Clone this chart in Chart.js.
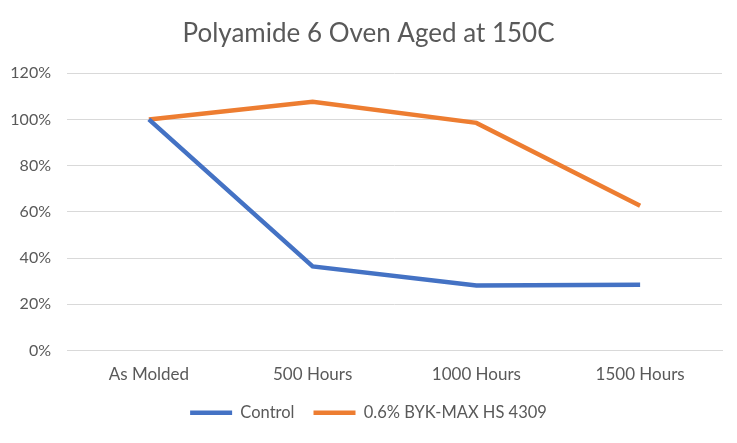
<!DOCTYPE html>
<html>
<head>
    <title>Polyamide 6 Oven Aged</title>
    <script src="https://cdn.jsdelivr.net/npm/chart.js@4.4.0/dist/chart.umd.min.js"></script>
    <style>
    body { margin: 0; background: #fff; }
    #container { width: 737px; height: 443px; }
    </style>
</head>
<body>
  <div id="container">
    <canvas id="myCanvas" width="737" height="443"></canvas>
  </div>
  <script>
  var categories = ['As Molded', '500 Hours', '1000 Hours', '1500 Hours'];
  var control = [100, 36.4, 28.1, 28.4];
  var byk = [100, 107.6, 98.5, 62.6];
  var yTicks = [0, 20, 40, 60, 80, 100, 120];

  var font = "Lato, 'Open Sans', sans-serif";
  Chart.defaults.font.family = font;
  Chart.defaults.color = '#595959';

  new Chart(document.getElementById('myCanvas'), {
      type: 'line',
      data: {
          labels: categories,
          datasets: [{
              label: 'Control',
              data: control,
              borderColor: '#4472c4',
              backgroundColor: '#4472c4',
              borderWidth: 4.5,
              pointRadius: 0,
              tension: 0
          }, {
              label: '0.6% BYK-MAX HS 4309',
              data: byk,
              borderColor: '#ed7d31',
              backgroundColor: '#ed7d31',
              borderWidth: 4.5,
              pointRadius: 0,
              tension: 0
          }]
      },
      options: {
          responsive: false,
          animation: false,
          layout: { padding: { left: 0, right: 0, top: 0, bottom: 12 } },
          plugins: {
              title: {
                  display: true,
                  text: 'Polyamide 6 Oven Aged at 150C',
                  color: '#595959',
                  font: { size: 26, weight: 'normal', family: font },
                  padding: { top: 18, bottom: 24 }
              },
              legend: {
                  position: 'bottom',
                  labels: {
                      usePointStyle: true,
                      pointStyle: 'line',
                      pointStyleWidth: 42,
                      font: { size: 16.5 },
                      color: '#595959',
                      padding: 19
                  }
              },
              tooltip: { enabled: false }
          },
          scales: {
              x: {
                  offset: true,
                  grid: { display: false, drawTicks: false },
                  border: { display: true, color: '#d9d9d9', width: 1 },
                  ticks: { font: { size: 17 }, padding: 14, maxRotation: 0 },
                  afterFit: function(axis) { axis.height = 35; }
              },
              y: {
                  min: 0,
                  max: 120,
                  afterBuildTicks: function(axis) {
                      axis.ticks = yTicks.map(function(v) { return { value: v }; });
                  },
                  grid: { color: '#d9d9d9', drawTicks: false },
                  border: { display: false },
                  ticks: {
                      font: { size: 16 },
                      padding: 16,
                      callback: function(v) { return v + '%'; }
                  },
                  afterFit: function(axis) { axis.width = 67; }
              },
              // empty right margin so title and legend stay centred on the page
              yRight: {
                  position: 'right',
                  grid: { display: false, drawTicks: false },
                  border: { display: false },
                  ticks: { display: false },
                  afterFit: function(axis) { axis.width = 15; }
              }
          }
      }
  });
  </script>
</body>
</html>
